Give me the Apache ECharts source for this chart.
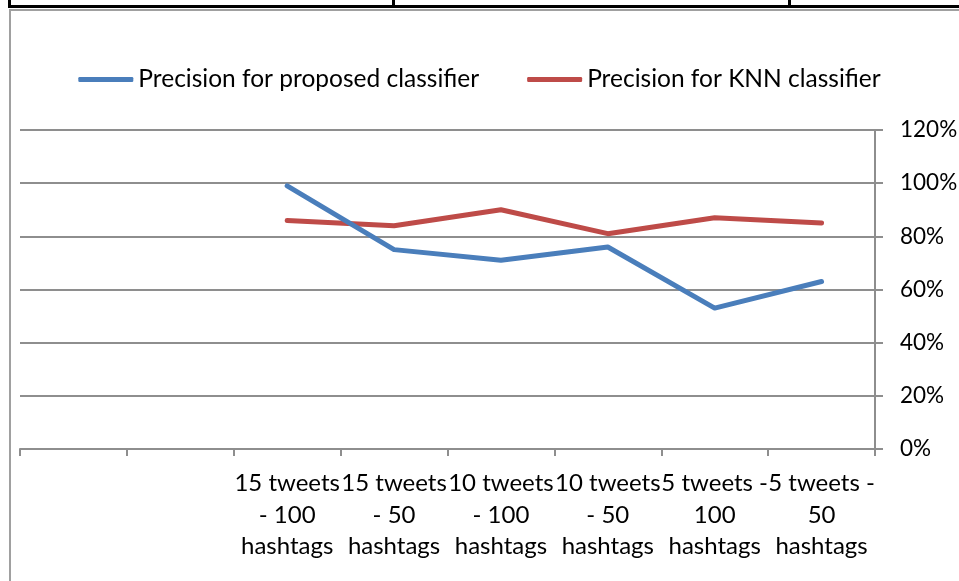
<!DOCTYPE html>
<html>
<head>
<meta charset="utf-8">
<script src="https://cdn.jsdelivr.net/npm/echarts@6/dist/echarts.min.js"></script>
<style>
  html, body { margin: 0; padding: 0; background: #fff; }
  #chart { width: 959px; height: 581px; }
</style>
</head>
<body>
<div id="chart"></div>
<script>
// categories, the first two are empty in the original sheet
const categories = ['', '', '15 tweets\n- 100\nhashtags', '15 tweets\n- 50\nhashtags', '10 tweets\n- 100\nhashtags',
  '10 tweets\n- 50\nhashtags', '5 tweets -\n100\nhashtags', '5 tweets -\n50\nhashtags']
const proposed = [null, null, 0.99, 0.75, 0.71, 0.76, 0.53, 0.63]
const knn = [null, null, 0.86, 0.84, 0.90, 0.81, 0.87, 0.85]
const yTicks = [0, 0.2, 0.4, 0.6, 0.8, 1.0, 1.2]

const font = 'Lato, Carlito, Calibri, sans-serif'
const gray = '#8e8e8e'

const myChart = echarts.init(document.getElementById('chart'))
const option = {
  animation: false,
  color: ['#4a7ebb', '#be4b48'],
  textStyle: { fontFamily: font },
  legend: {
    top: 62,
    left: 'center',
    itemWidth: 55,
    itemHeight: 5,
    itemGap: 48,
    icon: 'roundRect',
    textStyle: { fontSize: 24.5, color: '#000', fontFamily: font },
    data: ['Precision for proposed classifier', 'Precision for KNN classifier']
  },
  grid: { left: 20, right: 84, top: 130, bottom: 132, containLabel: false, outerBoundsMode: 'none' },
  xAxis: {
    type: 'category',
    data: categories,
    boundaryGap: true,
    axisLine: { lineStyle: { color: gray, width: 2 } },
    axisTick: { show: true, length: 7, interval: 0, lineStyle: { color: gray, width: 2 } },
    axisLabel: { interval: 0, color: '#000', fontSize: 24, lineHeight: 31.5, margin: 19, fontFamily: font }
  },
  yAxis: {
    type: 'value',
    position: 'right',
    min: yTicks[0],
    max: yTicks[yTicks.length - 1],
    interval: 0.2,
    axisLine: { show: true, lineStyle: { color: gray, width: 2 } },
    axisTick: { show: true, length: 8, lineStyle: { color: gray, width: 2 } },
    splitLine: { lineStyle: { color: gray, width: 2 } },
    axisLabel: {
      color: '#000', fontSize: 22.5, margin: 25, fontFamily: font,
      formatter: v => Math.round(v * 100) + '%'
    }
  },
  series: [
    {
      name: 'Precision for proposed classifier',
      type: 'line',
      data: proposed,
      showSymbol: false,
      symbol: 'none',
      lineStyle: { width: 5, cap: 'round', join: 'round' },
      z: 3
    },
    {
      name: 'Precision for KNN classifier',
      type: 'line',
      data: knn,
      showSymbol: false,
      symbol: 'none',
      lineStyle: { width: 5, cap: 'round', join: 'round' },
      z: 2
    }
  ],
  graphic: [
    // page table border above the chart
    { type: 'rect', shape: { x: 8, y: 5, width: 951, height: 3 }, style: { fill: '#000' } },
    { type: 'rect', shape: { x: 8, y: 0, width: 3, height: 8 }, style: { fill: '#000' } },
    { type: 'rect', shape: { x: 392, y: 0, width: 3, height: 8 }, style: { fill: '#000' } },
    { type: 'rect', shape: { x: 788, y: 0, width: 3, height: 8 }, style: { fill: '#000' } },
    // chart frame
    { type: 'rect', shape: { x: 9, y: 9, width: 950, height: 2 }, style: { fill: '#a0a0a0' } },
    { type: 'rect', shape: { x: 9, y: 9, width: 2, height: 572 }, style: { fill: '#a0a0a0' } }
  ]
}
myChart.setOption(option)
</script>
</body>
</html>
